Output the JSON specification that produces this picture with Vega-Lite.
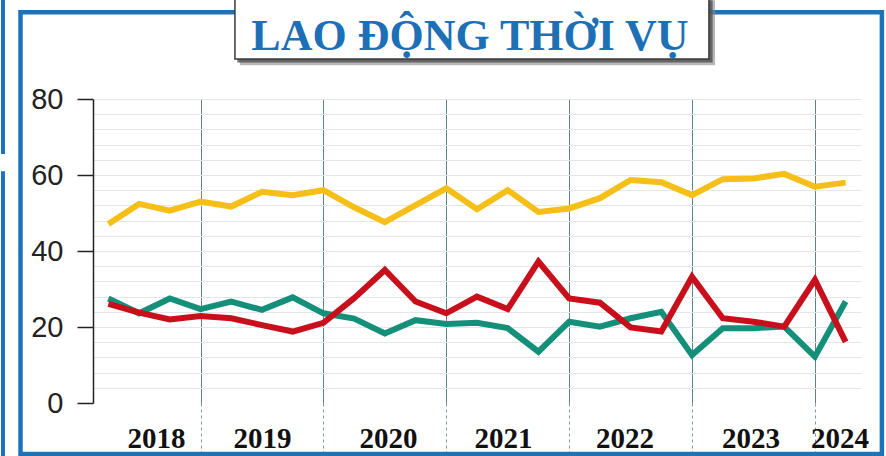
{
  "$schema": "https://vega.github.io/schema/vega-lite/v6.json",
  "width": 768,
  "height": 304,
  "autosize": {"type": "none"},
  "padding": {"left": 93, "top": 99, "right": 25, "bottom": 53},
  "background": "white",
  "config": {"view": {"stroke": null}},
  "datasets": {
    "series": [
      {"t": 0, "s": "Vàng", "v": 47.1}, {"t": 1, "s": "Vàng", "v": 52.4}, {"t": 2, "s": "Vàng", "v": 50.6}, {"t": 3, "s": "Vàng", "v": 53.0},
      {"t": 4, "s": "Vàng", "v": 51.7}, {"t": 5, "s": "Vàng", "v": 55.6}, {"t": 6, "s": "Vàng", "v": 54.7}, {"t": 7, "s": "Vàng", "v": 56.0},
      {"t": 8, "s": "Vàng", "v": 51.5}, {"t": 9, "s": "Vàng", "v": 47.6}, {"t": 10, "s": "Vàng", "v": 52.1}, {"t": 11, "s": "Vàng", "v": 56.5},
      {"t": 12, "s": "Vàng", "v": 51.0}, {"t": 13, "s": "Vàng", "v": 56.0}, {"t": 14, "s": "Vàng", "v": 50.3}, {"t": 15, "s": "Vàng", "v": 51.2},
      {"t": 16, "s": "Vàng", "v": 53.9}, {"t": 17, "s": "Vàng", "v": 58.7}, {"t": 18, "s": "Vàng", "v": 58.1}, {"t": 19, "s": "Vàng", "v": 54.7},
      {"t": 20, "s": "Vàng", "v": 58.9}, {"t": 21, "s": "Vàng", "v": 59.1}, {"t": 22, "s": "Vàng", "v": 60.3}, {"t": 23, "s": "Vàng", "v": 56.9},
      {"t": 24, "s": "Vàng", "v": 58.0},
      {"t": 0, "s": "Xanh", "v": 27.5}, {"t": 1, "s": "Xanh", "v": 23.6}, {"t": 2, "s": "Xanh", "v": 27.5}, {"t": 3, "s": "Xanh", "v": 24.7},
      {"t": 4, "s": "Xanh", "v": 26.7}, {"t": 5, "s": "Xanh", "v": 24.5}, {"t": 6, "s": "Xanh", "v": 27.8}, {"t": 7, "s": "Xanh", "v": 23.6},
      {"t": 8, "s": "Xanh", "v": 22.2}, {"t": 9, "s": "Xanh", "v": 18.3}, {"t": 10, "s": "Xanh", "v": 21.8}, {"t": 11, "s": "Xanh", "v": 20.8},
      {"t": 12, "s": "Xanh", "v": 21.1}, {"t": 13, "s": "Xanh", "v": 19.7}, {"t": 14, "s": "Xanh", "v": 13.5}, {"t": 15, "s": "Xanh", "v": 21.4},
      {"t": 16, "s": "Xanh", "v": 20.1}, {"t": 17, "s": "Xanh", "v": 22.3}, {"t": 18, "s": "Xanh", "v": 24.0}, {"t": 19, "s": "Xanh", "v": 12.6},
      {"t": 20, "s": "Xanh", "v": 19.7}, {"t": 21, "s": "Xanh", "v": 19.7}, {"t": 22, "s": "Xanh", "v": 20.1}, {"t": 23, "s": "Xanh", "v": 12.2},
      {"t": 24, "s": "Xanh", "v": 26.7},
      {"t": 0, "s": "Đỏ", "v": 26.1}, {"t": 1, "s": "Đỏ", "v": 23.8}, {"t": 2, "s": "Đỏ", "v": 22.0}, {"t": 3, "s": "Đỏ", "v": 22.9},
      {"t": 4, "s": "Đỏ", "v": 22.3}, {"t": 5, "s": "Đỏ", "v": 20.5}, {"t": 6, "s": "Đỏ", "v": 18.8}, {"t": 7, "s": "Đỏ", "v": 21.1},
      {"t": 8, "s": "Đỏ", "v": 27.6}, {"t": 9, "s": "Đỏ", "v": 35.0}, {"t": 10, "s": "Đỏ", "v": 26.7}, {"t": 11, "s": "Đỏ", "v": 23.6},
      {"t": 12, "s": "Đỏ", "v": 28.0}, {"t": 13, "s": "Đỏ", "v": 24.7}, {"t": 14, "s": "Đỏ", "v": 37.2}, {"t": 15, "s": "Đỏ", "v": 27.5},
      {"t": 16, "s": "Đỏ", "v": 26.4}, {"t": 17, "s": "Đỏ", "v": 19.9}, {"t": 18, "s": "Đỏ", "v": 18.8}, {"t": 19, "s": "Đỏ", "v": 33.2},
      {"t": 20, "s": "Đỏ", "v": 22.3}, {"t": 21, "s": "Đỏ", "v": 21.4}, {"t": 22, "s": "Đỏ", "v": 20.1}, {"t": 23, "s": "Đỏ", "v": 32.4},
      {"t": 24, "s": "Đỏ", "v": 16.1}
    ]
  },
  "resolve": {"axis": {"x": "independent", "y": "independent"}},
  "layer": [
    {
      "data": {"name": "series"},
      "mark": {"type": "line", "strokeWidth": 6, "strokeJoin": "miter"},
      "encoding": {
        "x": {"field": "t", "type": "quantitative", "scale": {"domain": [-0.5, 24.5], "nice": false, "zero": false},
          "axis": {"orient": "bottom", "values": [3, 7, 11, 15, 19, 23], "grid": true, "gridColor": "#5e8686", "gridWidth": 1,
            "domain": false, "labels": false, "ticks": true, "tickSize": 52, "tickDash": [3, 3], "tickColor": "#7a9c9c",
            "tickWidth": 1, "title": null}},
        "y": {"field": "v", "type": "quantitative", "scale": {"domain": [0, 80], "nice": false},
          "axis": {"orient": "left", "values": [0, 4, 8, 12, 16, 20, 24, 28, 32, 36, 40, 44, 48, 52, 56, 60, 64, 68, 72, 76, 80],
            "labelExpr": "datum.value % 20 === 0 ? datum.label : ''",
            "tickOpacity": {"condition": {"test": "datum.value % 20 === 0", "value": 1}, "value": 0},
            "grid": true,
            "gridColor": {"condition": {"test": "datum.value === 0", "value": "transparent"}, "value": "#e6e6e6"},
            "gridWidth": 1, "domainColor": "#222222", "domainWidth": 1.5, "tickColor": "#222222", "tickSize": 16,
            "tickWidth": 1.5, "labelFont": "Liberation Sans", "labelFontSize": 29, "labelColor": "#222222",
            "labelPadding": 14, "labelOverlap": false, "title": null}},
        "color": {"field": "s", "type": "nominal", "scale": {"domain": ["Vàng", "Xanh", "Đỏ"], "range": ["#f6bf17", "#14907a", "#c8101c"]}, "legend": null},
        "order": {"field": "t", "type": "quantitative"}
      }
    },
    {
      "data": {"values": [{}]},
      "mark": {"type": "rule", "stroke": "#1b74bb", "strokeWidth": 4},
      "encoding": {
        "x": {"datum": -3.43, "type": "quantitative", "scale": {"domain": [-0.5, 24.5], "nice": false, "zero": false}, "axis": null},
        "y": {"datum": 106.5, "type": "quantitative", "scale": {"domain": [0, 80], "nice": false}, "axis": null},
        "y2": {"datum": 65.5}
      }
    },
    {
      "data": {"values": [{}]},
      "mark": {"type": "rule", "stroke": "#1b74bb", "strokeWidth": 4},
      "encoding": {
        "x": {"datum": -3.43, "type": "quantitative", "scale": {"domain": [-0.5, 24.5], "nice": false, "zero": false}, "axis": null},
        "y": {"datum": 61.0, "type": "quantitative", "scale": {"domain": [0, 80], "nice": false}, "axis": null},
        "y2": {"datum": -14.5}
      }
    },
    {
      "data": {"values": [{}]},
      "mark": {"type": "rect", "fill": "white", "fillOpacity": 0, "stroke": "#1b74bb", "strokeWidth": 4.5},
      "encoding": {
        "x": {"datum": -2.86, "type": "quantitative", "scale": {"domain": [-0.5, 24.5], "nice": false, "zero": false},
          "axis": {"orient": "bottom", "values": [1.55, 5.0, 9.1, 12.85, 16.8, 20.9, 23.8],
            "labelExpr": "datum.value < 3 ? '2018' : datum.value < 7 ? '2019' : datum.value < 11 ? '2020' : datum.value < 15 ? '2021' : datum.value < 19 ? '2022' : datum.value < 23 ? '2023' : '2024'",
            "domain": false, "ticks": false, "grid": false, "labelFont": "Liberation Serif", "labelFontWeight": "bold",
            "labelFontSize": 29, "labelColor": "#111111", "labelBaseline": "alphabetic", "labelPadding": 44,
            "labelOverlap": false, "labelFlush": false, "title": null}},
        "x2": {"datum": 25.18},
        "y": {"datum": 102.8, "type": "quantitative", "scale": {"domain": [0, 80], "nice": false}, "axis": null},
        "y2": {"datum": -13.4}
      }
    },
    {
      "data": {"values": [{}]},
      "mark": {"type": "rect", "fill": "#888888", "opacity": 0.6},
      "encoding": {
        "x": {"datum": 4.28, "type": "quantitative", "scale": {"domain": [-0.5, 24.5], "nice": false, "zero": false}, "axis": null},
        "x2": {"datum": 19.75},
        "y": {"datum": 106, "type": "quantitative", "scale": {"domain": [0, 80], "nice": false}, "axis": null},
        "y2": {"datum": 88.9}
      }
    },
    {
      "data": {"values": [{}]},
      "mark": {"type": "rect", "fill": "#555555", "opacity": 0.85},
      "encoding": {
        "x": {"datum": 4.2, "type": "quantitative", "scale": {"domain": [-0.5, 24.5], "nice": false, "zero": false}, "axis": null},
        "x2": {"datum": 19.67},
        "y": {"datum": 106, "type": "quantitative", "scale": {"domain": [0, 80], "nice": false}, "axis": null},
        "y2": {"datum": 89.6}
      }
    },
    {
      "data": {"values": [{}]},
      "mark": {"type": "rect", "fill": "white", "stroke": "#3a3a3a", "strokeWidth": 1.5},
      "encoding": {
        "x": {"datum": 4.12, "type": "quantitative", "scale": {"domain": [-0.5, 24.5], "nice": false, "zero": false}, "axis": null},
        "x2": {"datum": 19.55},
        "y": {"datum": 107.5, "type": "quantitative", "scale": {"domain": [0, 80], "nice": false}, "axis": null},
        "y2": {"datum": 90.5}
      }
    },
    {
      "data": {"values": [{}]},
      "mark": {"type": "text", "text": "LAO ĐỘNG THỜI VỤ", "font": "Liberation Serif", "fontWeight": "bold", "fontSize": 44,
        "fill": "#1d6fb6", "align": "center", "baseline": "alphabetic"},
      "encoding": {
        "x": {"datum": 11.77, "type": "quantitative", "scale": {"domain": [-0.5, 24.5], "nice": false, "zero": false}, "axis": null},
        "y": {"datum": 92.9, "type": "quantitative", "scale": {"domain": [0, 80], "nice": false}, "axis": null}
      }
    }
  ]
}
